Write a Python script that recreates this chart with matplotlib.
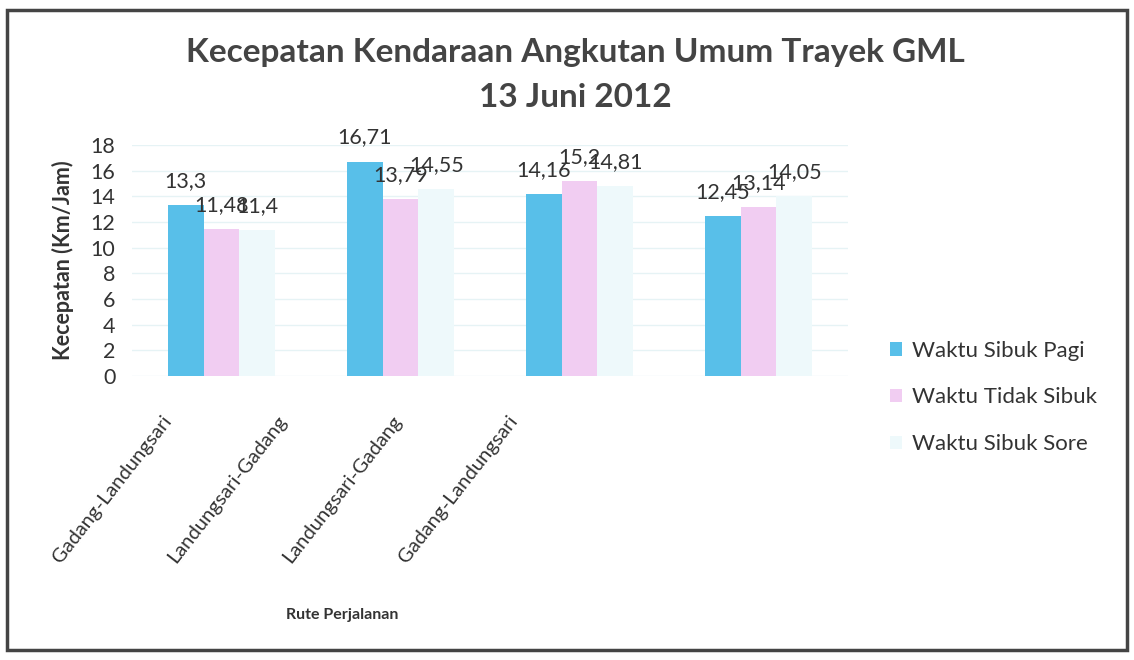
import numpy as np
import matplotlib
matplotlib.use('Agg')
import matplotlib.pyplot as plt
from matplotlib.patches import Rectangle

plt.rcParams['font.family'] = ['Lato', 'DejaVu Sans']

## ------------------------------ data -----------------------------------

routes = ['Gadang-Landungsari', 'Landungsari-Gadang',
          'Landungsari-Gadang', 'Gadang-Landungsari']
series_names = ['Waktu Sibuk Pagi', 'Waktu Tidak Sibuk', 'Waktu Sibuk Sore']
sibuk_pagi = [13.3, 16.71, 14.16, 12.45]
tidak_sibuk = [11.48, 13.79, 15.2, 13.14]
sibuk_sore = [11.4, 14.55, 14.81, 14.05]
y_ticks = [0, 2, 4, 6, 8, 10, 12, 14, 16, 18]

colors = ['#58bfe9', '#f1cdf2', '#eef9fb']
txt_col = '#333333'


def fmt(v):
    ''' Excel style decimal comma '''
    return ('%g' % v).replace('.', ',')


## ------------------------------ figure -----------------------------------

fig = plt.figure(figsize=(11.34, 6.6), dpi=100)
ax = fig.add_axes([0.1164, 0.4303, 0.6314, 0.35])

x = np.arange(len(routes))
w = 0.2
all_series = [sibuk_pagi, tidak_sibuk, sibuk_sore]
for k, vals in enumerate(all_series):
    pos = x + (k - 1) * w
    ax.bar(pos, vals, width=w, color=colors[k], label=series_names[k], zorder=2)
    for px, v in zip(pos, vals):
        ax.annotate(fmt(v), (px, v), xytext=(0, 24), textcoords='offset pixels',
                    ha='center', va='center', fontsize=15.5, color=txt_col)

ax.set_xlim(-0.5, len(routes) - 0.5)
ax.set_ylim(0, 18)
ax.set_yticks(y_ticks)
ax.set_yticklabels([str(t) for t in y_ticks], fontsize=15.5, color=txt_col)
ax.tick_params(axis='y', length=0, pad=12)
ax.set_xticks([])
ax.grid(axis='y', color='#e6f3f5', lw=1, zorder=0)
for s in ax.spines.values():
    s.set_visible(False)

# category labels, rotated like the sheet export (they sit closer together than the bars)
for i, name in enumerate(routes):
    ax.text(-0.3 + 0.645 * i, -0.18, name, transform=ax.get_xaxis_transform(),
            rotation=52, ha='right', va='center', rotation_mode='anchor',
            fontsize=14.5, color=txt_col)

ax.set_ylabel('Kecepatan (Km/Jam)', fontsize=15.5, fontweight='bold', color=txt_col, labelpad=12)
fig.text(0.302, 0.068, 'Rute Perjalanan', ha='center', va='center',
         fontsize=11.5, fontweight='bold', color=txt_col)

fig.text(0.507, 0.921, 'Kecepatan Kendaraan Angkutan Umum Trayek GML', ha='center',
         va='center', fontsize=24, fontweight='bold', color='#444444')
fig.text(0.507, 0.853, '13 Juni 2012', ha='center', va='center',
         fontsize=24, fontweight='bold', color='#444444')

leg = fig.legend(loc='upper left', bbox_to_anchor=(0.767, 0.514), frameon=False,
                 fontsize=16, handlelength=0.55, handleheight=0.55, labelspacing=1.2,
                 handletextpad=0.45)
for t in leg.get_texts():
    t.set_color(txt_col)

fig.patches.append(Rectangle((0.006, 0.015), 0.988, 0.97, transform=fig.transFigure,
                             fill=False, edgecolor='#444444', lw=2.5))

fig.savefig('out.png', dpi=100, facecolor='white')
